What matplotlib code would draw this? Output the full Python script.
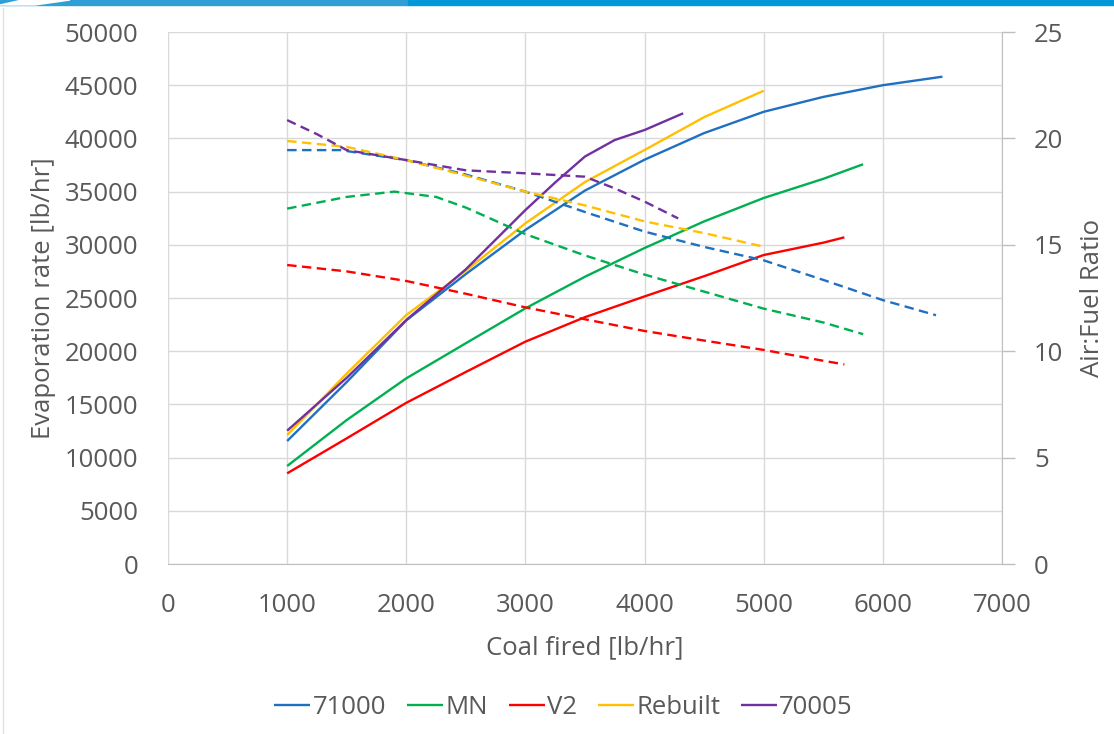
import matplotlib
matplotlib.use("Agg")
import matplotlib.pyplot as plt
from matplotlib.patches import Rectangle, Polygon
from matplotlib.lines import Line2D

plt.rcParams['font.family'] = ['Open Sans', 'DejaVu Sans']
TXT = "#595959"
GRID = "#d9d9d9"
FS = 18.5

# ---- data ----
# evaporation rate [lb/hr] vs coal fired [lb/hr]  (solid, left axis)
x_71000 = [1000, 1500, 2000, 2500, 3000, 3500, 4000, 4500, 5000, 5500, 6000, 6500]
evap_71000 = [11560, 17100, 22900, 27250, 31400, 35100, 38000, 40500, 42500, 43900, 45000, 45800]

x_mn = [1000, 1500, 2000, 2500, 3000, 3500, 4000, 4500, 5000, 5500, 5834]
evap_mn = [9210, 13530, 17450, 20750, 24030, 27000, 29700, 32200, 34400, 36200, 37570]

x_v2 = [1000, 1500, 2000, 2500, 3000, 3500, 4000, 4500, 5000, 5500, 5677]
evap_v2 = [8520, 11810, 15150, 18050, 20900, 23200, 25150, 27050, 29040, 30200, 30700]

x_rebuilt = [1000, 1500, 2000, 2500, 3000, 3500, 4000, 4500, 5000]
evap_rebuilt = [12120, 17900, 23400, 27570, 32020, 35900, 38910, 42000, 44480]

x_70005 = [1000, 1500, 2000, 2500, 3000, 3250, 3500, 3750, 4000, 4324]
evap_70005 = [12530, 17500, 22930, 27700, 33270, 35860, 38300, 39850, 40790, 42360]

# air:fuel ratio (dashed, right axis)
afr_x_71000 = [1000, 1450, 2000, 2500, 3000, 3500, 4000, 4500, 5000, 5500, 6000, 6446]
afr_71000 = [19.45, 19.45, 18.98, 18.3, 17.5, 16.54, 15.62, 14.9, 14.27, 13.35, 12.4, 11.69]

afr_x_mn = [1000, 1500, 1900, 2250, 2500, 3000, 3500, 4000, 4500, 5000, 5500, 5834]
afr_mn = [16.7, 17.25, 17.5, 17.25, 16.75, 15.5, 14.5, 13.6, 12.8, 12.0, 11.35, 10.8]

afr_x_v2 = [1000, 1500, 2000, 2500, 3000, 3500, 4000, 4500, 5000, 5500, 5677]
afr_v2 = [14.05, 13.75, 13.3, 12.7, 12.06, 11.5, 10.95, 10.5, 10.06, 9.55, 9.38]

afr_x_rebuilt = [1000, 1500, 2000, 2500, 3000, 3500, 4000, 4500, 5000]
afr_rebuilt = [19.88, 19.6, 18.98, 18.25, 17.5, 16.85, 16.1, 15.55, 14.91]

afr_x_70005 = [1000, 1250, 1500, 2000, 2500, 3000, 3500, 3750, 4000, 4282]
afr_70005 = [20.86, 20.2, 19.45, 18.98, 18.5, 18.36, 18.2, 17.65, 17.03, 16.24]

names = ["71000", "MN", "V2", "Rebuilt", "70005"]
colors = ["#1f70c1", "#00b050", "#ff0000", "#ffc000", "#7030a0"]

fig = plt.figure(figsize=(11.14, 7.34), dpi=100)

# header band + left border
fig.patches.append(Rectangle((0, 1 - 5/734), 408/1114, 5/734, transform=fig.transFigure,
                             color="#2f9fd6", zorder=0))
fig.patches.append(Rectangle((408/1114, 1 - 5/734), 1 - 408/1114, 5/734, transform=fig.transFigure,
                             color="#0098d8", zorder=0))
fig.patches.append(Polygon([(22/1114, 1), (70/1114, 1), (35/1114, 1 - 5/734), (0, 1 - 5/734)],
                           closed=True, transform=fig.transFigure, color="white", zorder=1))
fig.lines.append(Line2D([3/1114, 3/1114], [0, 1 - 8/734], transform=fig.transFigure,
                        color="#e3e3e3", lw=1))

ax = fig.add_axes([168/1114, 1 - 564/734, (1002 - 168)/1114, (564 - 32)/734])
ax2 = ax.twinx()

evap = [(x_71000, evap_71000), (x_mn, evap_mn), (x_v2, evap_v2),
        (x_rebuilt, evap_rebuilt), (x_70005, evap_70005)]
afr = [(afr_x_71000, afr_71000), (afr_x_mn, afr_mn), (afr_x_v2, afr_v2),
       (afr_x_rebuilt, afr_rebuilt), (afr_x_70005, afr_70005)]

handles = []
for (xs, ys), c, n in zip(evap, colors, names):
    h, = ax.plot(xs, ys, color=c, lw=1.7, label=n, solid_capstyle="butt",
                 solid_joinstyle="round")
    handles.append(h)
for (xs, ys), c in zip(afr, colors):
    ax2.plot(xs, ys, color=c, lw=1.7, dashes=(4, 2.3))

ax.set_xlim(0, 7000)
ax.set_ylim(0, 50000)
ax2.set_ylim(0, 25)
ax.set_xticks(range(0, 7001, 1000))
ax.set_yticks(range(0, 50001, 5000))
ax2.set_yticks(range(0, 26, 5))

ax.grid(True, color=GRID, lw=1)
ax.set_axisbelow(True)

for a in (ax, ax2):
    for s in ("top", "left"):
        a.spines[s].set_visible(False)
ax.spines["right"].set_visible(False)
ax.spines["bottom"].set_color("#bfbfbf")
ax2.spines["bottom"].set_visible(False)
ax2.spines["right"].set_color("#bfbfbf")

ax.tick_params(axis="x", length=0, pad=21, labelsize=FS, labelcolor=TXT)
ax.tick_params(axis="y", length=0, pad=21.5, labelsize=FS, labelcolor=TXT)
ax2.tick_params(axis="y", length=9, width=1, color="#bfbfbf", pad=14,
                labelsize=FS, labelcolor=TXT)

ax.set_xlabel("Coal fired [lb/hr]", fontsize=FS, color=TXT, labelpad=12)
ax.set_ylabel("Evaporation rate [lb/hr]", fontsize=FS, color=TXT, labelpad=6)
ax2.set_ylabel("Air:Fuel Ratio", fontsize=FS, color=TXT, labelpad=12)

fig.legend(handles=handles, loc="center", bbox_to_anchor=(0.506, 1 - 707/734), ncol=5,
           frameon=False, fontsize=FS, handlelength=1.4, handletextpad=0.1,
           columnspacing=0.8, labelcolor=TXT)

fig.savefig("out.png", dpi=100)
